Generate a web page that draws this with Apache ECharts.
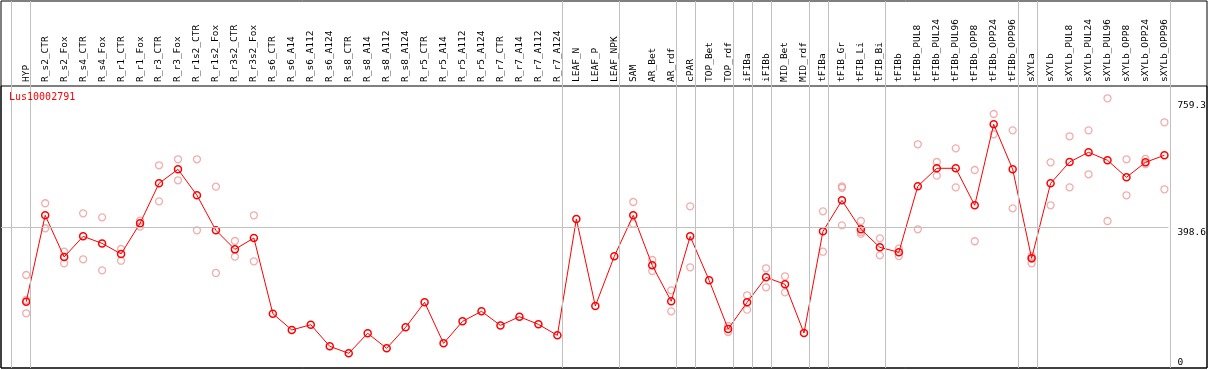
<!DOCTYPE html>
<html>
<head>
<meta charset="utf-8">
<script src="https://cdn.jsdelivr.net/npm/echarts@6/dist/echarts.min.js"></script>
<style>
html,body{margin:0;padding:0;background:#fff;}
#c{width:1209px;height:370px;}
</style>
</head>
<body>
<div id="c"></div>
<script>
var geneName = 'Lus10002791';
var categories = ['HYP','R_s2_CTR','R_s2_Fox','R_s4_CTR','R_s4_Fox','R_r1_CTR','R_r1_Fox','R_r3_CTR','R_r3_Fox','R_r1s2_CTR','R_r1s2_Fox','R_r3s2_CTR','R_r3s2_Fox','R_s6_CTR','R_s6_A14','R_s6_A112','R_s6_A124','R_s8_CTR','R_s8_A14','R_s8_A112','R_s8_A124','R_r5_CTR','R_r5_A14','R_r5_A112','R_r5_A124','R_r7_CTR','R_r7_A14','R_r7_A112','R_r7_A124','LEAF_N','LEAF_P','LEAF_NPK','SAM','AR_Bet','AR_rdf','cPAR','TOP_Bet','TOP_rdf','iFIBa','iFIBb','MID_Bet','MID_rdf','tFIBa','tFIB_Gr','tFIB_Li','tFIB_Bi','tFIBb','tFIBb_PUL8','tFIBb_PUL24','tFIBb_PUL96','tFIBb_OPP8','tFIBb_OPP24','tFIBb_OPP96','sXYLa','sXYLb','sXYLb_PUL8','sXYLb_PUL24','sXYLb_PUL96','sXYLb_OPP8','sXYLb_OPP24','sXYLb_OPP96'];
var means = [188.4,433.8,315.3,374,354,324,411,524.6,564.4,490.5,391,337,369.3,154.4,108,123,61.6,41.7,98.5,55.9,115.5,186.5,70,132.5,161,121,145.8,124,92.8,423.3,176,317.2,433.8,291.7,189.5,374,249,110.8,186.5,257.6,237.7,99.4,388.2,476.3,394,342.8,328.6,516.2,567.3,567.3,462.2,692.3,564.4,311.6,524.6,585.2,612.8,590,541.8,584.3,604.3];
var replicates = [
  [264.2,193.2,155.4],[468,397],[330.4,297.4],[439.4,308.8],[428,277.5],[338,304.8],[418.5,401.5],[575.8,473.5],[592.9,533.2],[592.9,391.2],[515.2,270],[360.8,316.3],[433.8,303],
  [],[],[],[],[],[],[],[],[],[],[],[],[],[],[],[],[],[],[],
  [471.6,410],[306.8,275.6],[220.7,161],[459.3,286],[],[119.3,102.3],[206.5,165.7],[283.2,229.2],[260.5,215],[],
  [445,330.4],[516,512,405.2],[417.6,386,381],[368.4,320],[339,318],[635.5,394],[585.2,546.4],[624,513.3],[562.5,360],[721.6,664],[675.2,453.6],
  [318,311,297.4],[584.3,462.2],[658.2,513.3],[675.2,550.3],[766.2,417.6],[592.9,490.6],[593.8,579.5],[698,507.7]
];
var groupEnds = [-1,0,28,31,34,35,37,38,39,41,42,45,52,53,60];
var yTickLabels = [759.3, 398.6];
var yZeroLabel = [0];
var yRefLine = 398.6;

var mono = "'DejaVu Sans Mono', monospace";
var xMin = -1.33, xMax = 60.21, yMax = 801.1;

var lineData = means.map(function(v,i){return [i,v];});
var repData = [];
replicates.forEach(function(arr,i){arr.forEach(function(v){repData.push([i,v]);});});
var catIdx = categories.map(function(c,i){return i;});

var hiddenX = function(g){return {type:'value',gridIndex:g,show:false,min:0,max:1};};
var hiddenY = function(g){return {type:'value',gridIndex:g,show:false,min:0,max:1};};
var labelY = function(vals, va){
  return {type:'value',gridIndex:3,position:'right',min:0,max:yMax,
    axisLine:{show:false},axisTick:{show:false},splitLine:{show:false},
    axisLabel:{customValues:vals,margin:9,verticalAlign:va,color:'#000',fontSize:9.5,fontFamily:mono,
      formatter:function(v){return String(v);}}};
};

var option = {
  animation:false,
  backgroundColor:'#fff',
  title:{text:geneName,left:9,top:92,padding:0,textStyle:{color:'#ff0000',fontSize:10,fontWeight:'normal',fontFamily:mono}},
  grid:[
    {left:1,top:1,width:1206,height:367,show:true,borderColor:'#000',borderWidth:1,backgroundColor:'transparent'},
    {left:1,top:86,width:1206,height:282,show:true,borderColor:'#000',borderWidth:1,backgroundColor:'transparent'},
    {left:1,right:39,top:1,bottom:2,show:false},
    {left:1,right:39,top:86,bottom:2,show:false}
  ],
  xAxis:[
    hiddenX(0), hiddenX(1),
    {type:'value',gridIndex:2,show:false,min:xMin,max:xMax},
    {type:'value',gridIndex:3,position:'top',min:xMin,max:xMax,
      axisLine:{show:false},axisTick:{show:false},splitLine:{show:false},
      axisLabel:{customValues:catIdx,rotate:90,margin:4,color:'#000',fontSize:9.5,fontFamily:mono,
        formatter:function(v){return categories[Math.round(v)]||'';}}}
  ],
  yAxis:[
    hiddenY(0), hiddenY(1), hiddenY(2),
    labelY(yTickLabels,'top'),
    labelY(yZeroLabel,'bottom')
  ],
  series:[
    {type:'line',xAxisIndex:2,yAxisIndex:2,data:[],silent:true,
      markLine:{silent:true,symbol:'none',label:{show:false},
        lineStyle:{color:'#c0c0c0',width:1,type:'solid'},
        data:groupEnds.map(function(g){return {xAxis:g+0.21};})}},
    {type:'scatter',xAxisIndex:3,yAxisIndex:3,data:repData,symbol:'circle',symbolSize:7,z:2,
      itemStyle:{color:'rgba(0,0,0,0)',borderColor:'#ee9a9a',borderWidth:1.3}},
    {type:'line',xAxisIndex:3,yAxisIndex:3,data:lineData,symbol:'circle',symbolSize:7,z:3,
      lineStyle:{color:'#ff0000',width:1},
      itemStyle:{color:'rgba(0,0,0,0)',borderColor:'#ff0000',borderWidth:1.5},
      markLine:{silent:true,symbol:'none',label:{show:false},
        lineStyle:{color:'#c0c0c0',width:1,type:'solid'},
        data:[{yAxis:yRefLine}]}}
  ]
};
var chart = echarts.init(document.getElementById('c'),null,{renderer:'canvas'});
chart.setOption(option);
</script>
</body>
</html>
